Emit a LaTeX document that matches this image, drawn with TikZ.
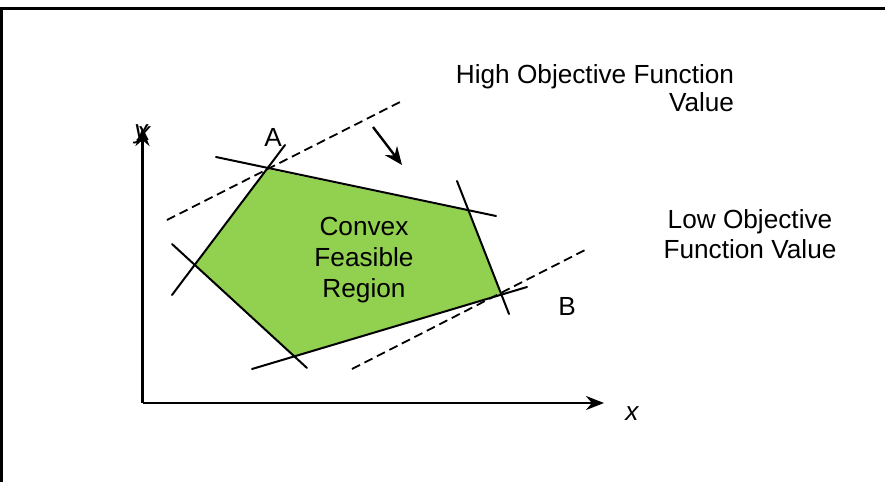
\documentclass[tikz,border=0pt]{standalone}
\usepackage{fontspec}
\setmainfont{Liberation Sans}
\usetikzlibrary{arrows.meta}
\definecolor{feas}{RGB}{146,208,80}
\begin{document}
\begin{tikzpicture}[x=0.5pt,y=-0.5pt,
  txt/.style={font=\fontsize{13.1}{14}\selectfont, inner sep=0pt},
  cline/.style={line width=1pt, line cap=round},
  dline/.style={line width=0.9pt, dash pattern=on 4.5pt off 2.5pt},
  axisline/.style={line width=1.3pt,-{Stealth[length=9pt,width=7pt]}},
  dirarrow/.style={line width=1.2pt,-{Stealth[length=9pt,width=7.5pt]}}]
\useasboundingbox (0,0) rectangle (885,482);
\fill[white] (0,0) rectangle (885,482);
% frame
\coordinate (f0) at (1.5,482);
\coordinate (f1) at (1.5,8.5);
\coordinate (f2) at (885,8.5);
\draw[line width=1.5pt] (f0) -- (f1) -- (f2);
% polygon vertices
\coordinate (pA) at (267,169);
\coordinate (pR) at (468,211);
\coordinate (pB) at (501,294);
\coordinate (pD) at (293,356);
\coordinate (pL) at (194,265);
\fill[feas] (pA) -- (pR) -- (pB) -- (pD) -- (pL) -- cycle;
% constraint lines
\coordinate (c1a) at (216,157); \coordinate (c1b) at (496,216);
\coordinate (c2a) at (285,145); \coordinate (c2b) at (172,295);
\coordinate (c3a) at (172,244); \coordinate (c3b) at (307,368);
\coordinate (c4a) at (252,369); \coordinate (c4b) at (527,287);
\coordinate (c5a) at (457,181); \coordinate (c5b) at (509,314);
\draw[cline] (c1a) -- (c1b);
\draw[cline] (c2a) -- (c2b);
\draw[cline] (c3a) -- (c3b);
\draw[cline] (c4a) -- (c4b);
\draw[cline] (c5a) -- (c5b);
% objective lines
\coordinate (d1a) at (167,220); \coordinate (d1b) at (400,102);
\coordinate (d2a) at (352,369); \coordinate (d2b) at (585,250);
\draw[dline] (d1a) -- (d1b);
\draw[dline] (d2a) -- (d2b);
% direction arrow
\coordinate (ar0) at (373,127); \coordinate (ar1) at (402,165);
\draw[dirarrow] (ar0) -- (ar1);
% axes
\coordinate (o) at (142.5,403);
\coordinate (xe) at (604,403);
\coordinate (ye) at (142.5,128);
\draw[axisline] (o) -- (xe);
\draw[axisline] (o) -- (ye);
% labels
\node[txt, font=\fontsize{13.1}{14}\selectfont\itshape] (ly) at (141,134) {y};
\node[txt, font=\fontsize{13.1}{14}\selectfont\itshape] (lyx) at (144,134) {x};
\node[txt, font=\fontsize{13.1}{14}\selectfont\itshape] (lx) at (632,414) {x};
\node[txt] (lA) at (273,137) {A};
\node[txt] (lB) at (567,306) {B};
\node[txt, align=center, font=\fontsize{13.1}{15.5}\selectfont] (reg) at (364,260) {Convex\\Feasible\\Region};
\node[txt, align=right] (hi) at (595,88) {High Objective Function\\Value};
\node[txt, align=center, font=\fontsize{13.1}{15}\selectfont] (lo) at (750,234) {Low Objective\\Function Value};
\end{tikzpicture}
\end{document}
